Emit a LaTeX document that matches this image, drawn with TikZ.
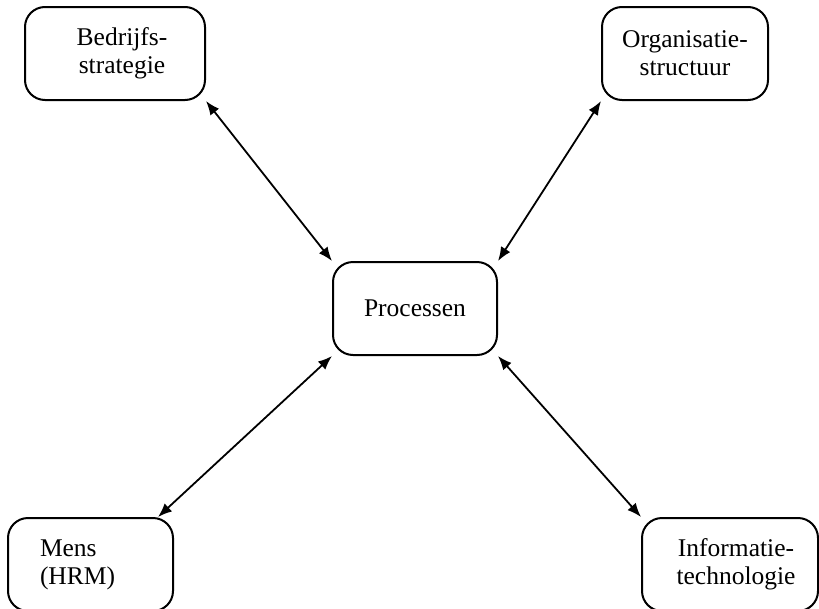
\documentclass[tikz,border=0pt]{standalone}
\usepackage{fontspec}
\setmainfont{Liberation Serif}
\usepackage{tikz}
\usetikzlibrary{arrows.meta}
\def\myCorner{20pt}

\begin{document}
\begin{tikzpicture}[x=1pt,y=-1pt]
      \tikzstyle{every node} = [font=\fontsize{25.5}{28}\selectfont]
      \tikzstyle{block} = [draw, rectangle, line width=2pt, rounded corners=\myCorner, minimum height=93pt, inner sep=0pt]
      \tikzstyle{link} = [{Latex[length=14pt,width=11pt]}-{Latex[length=14pt,width=11pt]}, line width=1.8pt]
      \useasboundingbox (0,0) rectangle (819,608);
      \node[block, minimum width=164pt, align=center](processen) at (415,308.5){Processen};
      \node[block, minimum width=180pt, align=center](strategie) at (115,53.5){\hspace*{14pt}Bedrijfs-\\\hspace*{14pt}strategie};
      \node[block, minimum width=166pt, align=center](structuur) at (685,53.5){Organisatie-\\structuur};
      \node[block, text width=101pt, inner xsep=32pt, align=left](mens) at (90.5,564.5){Mens\\(HRM)};
      \node[block, minimum width=176pt, align=center](techniek) at (730,564.5){\hspace*{12pt}Informatie-\\\hspace*{12pt}technologie};
      % Connections
      \draw[link]
      (strategie.south east) -- (processen.north west);
      \draw[link]
      (structuur.south west) -- (processen.north east);
      \draw[link]
      ([xshift=-16pt]mens.north east) -- (processen.south west);
      \draw[link]
      (techniek.north west) -- (processen.south east);
\end{tikzpicture}
\end{document}
